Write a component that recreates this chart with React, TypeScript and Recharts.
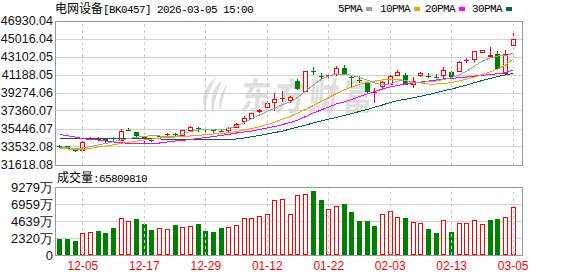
import React from 'react';
import { ComposedChart, Bar, Line, XAxis, YAxis, CartesianGrid, ReferenceLine } from 'recharts';

const dates = ['12-02','12-03','12-04','12-05','12-08','12-09','12-10','12-11','12-12','12-15','12-16','12-17','12-18','12-19','12-22','12-23','12-24','12-25','12-26','12-29','12-30','12-31','01-05','01-06','01-07','01-08','01-09','01-12','01-13','01-14','01-15','01-16','01-19','01-20','01-21','01-22','01-23','01-26','01-27','01-28','01-29','01-30','02-02','02-03','02-04','02-05','02-06','02-09','02-10','02-11','02-12','02-13','02-24','02-25','02-26','02-27','03-02','03-03','03-04','03-05'];

const opens = [33671,33607,33213,33139,34383,34370,34383,34180,34202,35290,
  35095,34383,34277,34670,34883,34880,34702,35234,35500,35393,
  35287,35266,35234,35585,36159,36541,37222,37647,38179,38647,
  38424,40550,39412,41645,41082,41156,41188,41964,40976,40689,
  40306,39274,39880,40125,41114,41188,40072,41082,41103,40976,
  41114,41539,41539,42730,42815,43496,43102,43389,41263,44304];
const highs = [33700,33639,33394,34117,34564,34543,34400,34628,35446,35585,
  35127,34628,34415,34808,35053,35000,35340,35765,35691,35552,
  35415,35308,35691,36084,36829,37180,37605,38456,39243,39519,
  38987,40763,41660,42071,41433,41433,42177,42252,41082,41082,
  40338,39827,40550,41188,41720,41433,41007,41560,41433,41263,
  42071,41614,42677,43028,43740,43860,44200,43740,43846,45728];
const lows = [33394,33320,32969,33001,34277,34277,33990,34064,34180,35230,
  34564,33851,34064,34564,34733,34680,34564,35127,35159,35159,
  35053,35095,35127,35552,35978,36478,37148,37467,37392,38349,
  38179,39594,39400,41188,40657,40731,41082,41188,39774,40306,
  39306,38179,39806,40019,41082,40093,39806,40976,40837,40837,
  40657,40944,41507,42496,42602,43496,43100,41773,41241,44272];
const closes = [33639,33352,33181,34064,34436,34420,34139,34130,35234,35250,
  34670,34596,34245,34733,34947,34840,35308,35659,35446,35340,
  35234,35100,35585,35978,36648,37116,37499,38243,38636,38753,
  38817,39668,41645,41592,41029,41210,41901,41295,40869,40625,
  39412,39381,40476,41082,41475,40125,40550,41369,41050,40923,
  41720,40976,42539,42836,43740,43846,43315,41826,43389,45016];
// volume in 万
const volumes = [2172,2180,1901,2942,3078,3259,2987,3711,5114,4707,
  4888,4209,3395,3621,3530,4073,3802,3892,4209,3259,
  3123,3666,3802,4073,5024,5000,5386,5567,7468,7694,
  5658,8237,8373,8690,7468,6246,6744,6925,5839,4617,
  4600,3938,5658,6065,5250,5024,4435,4420,3530,2987,
  4843,3123,4300,4310,4843,4164,4752,4888,5250,6581];

const ma5 = [33532,33458,33394,33426,33586,33745,33905,34117,34277,34436,
  34564,34649,34755,34702,34596,34649,34915,35180,35340,35393,
  35340,35372,35499,35765,36138,36563,36935,37307,37679,38052,
  38317,38849,39487,40125,40710,41082,41295,41280,41135,40922,
  40657,40338,40125,40231,40550,40603,40338,40391,40497,40550,
  40710,40922,41188,41614,42145,42677,42996,43209,43220,43528];
const ma10 = [33426,33320,33267,33267,33373,33532,33639,33777,33905,34032,
  34170,34277,34383,34489,34564,34596,34649,34702,34755,34861,
  34915,34968,35053,35180,35340,35499,35712,35925,36191,36510,
  36776,37148,37520,37945,38371,38796,39221,39593,39912,40178,
  40391,40550,40657,40731,40710,40603,40444,40338,40231,40231,
  40284,40391,40550,40763,40976,41241,41507,41826,42252,42890];
const ma20 = [34861,34733,34596,34415,34330,34277,34170,34064,33990,33926,
  33905,33900,33905,33958,34064,34170,34245,34330,34436,34543,
  34649,34755,34883,35021,35127,35234,35393,35553,35712,35925,
  36138,36403,36776,37148,37467,37786,38105,38317,38583,38902,
  39168,39434,39700,39912,40072,40231,40338,40444,40550,40657,
  40763,40816,40901,40976,41082,41135,41241,41327,41433,41720];
const ma30 = [34470,34465,34462,34458,34455,34452,34448,34445,34440,34430,
  34420,34410,34400,34385,34360,34330,34300,34290,34285,34280,
  34278,34276,34280,34383,34489,34627,34755,34915,35074,35234,
  35446,35659,35872,36084,36297,36510,36669,36882,37094,37307,
  37520,37786,37998,38264,38477,38604,38764,38923,39115,39296,
  39508,39700,39912,40125,40391,40603,40816,41029,41188,41369];

const priceTicks = [31618.08, 33532.08, 35446.07, 37360.07, 39274.06, 41188.05, 43102.05, 45016.04, 46930.04];
const volTicks = [0, 2319.75, 4639.5, 6959.25, 9279];
const volTickLabels = ['0', '2320万', '4639万', '6959万', '9279万'];
const xTickDates = ['12-05', '12-17', '12-29', '01-12', '01-22', '02-03', '02-13', '03-05'];

const data = dates.map((d, i) => ({
  date: d,
  open: opens[i],
  high: highs[i],
  low: lows[i],
  close: closes[i],
  range: [lows[i], highs[i]],
  vol: volumes[i],
  volUp: i === 0 ? closes[i] >= opens[i] : closes[i] >= closes[i - 1],
  ma5: ma5[i],
  ma10: ma10[i],
  ma20: ma20[i],
  ma30: ma30[i],
}));

const RED = '#ff0000';
const GREEN = '#008000';
const FONT_NUM = "'Liberation Sans', Arial, sans-serif";
const FONT_MONO = "'Liberation Mono', 'Noto Sans CJK SC', monospace";
const FONT_CJK = "'Noto Sans CJK SC', sans-serif";

function Candle(props: any) {
  const { x, y, width, height, payload } = props;
  if (x == null || payload == null) return null;
  const top = Math.min(y, y + height);
  const h = Math.abs(height);
  const { open, close, high, low } = payload;
  const py = (v: number) => top + ((high - v) / (high - low)) * h;
  const cx = Math.floor(x + width / 2) + 0.5;
  const up = close > open;
  const color = up ? RED : GREEN;
  const bTop = Math.round(py(Math.max(open, close)));
  const bBot = Math.round(py(Math.min(open, close)));
  const hY = Math.round(py(high));
  const lY = Math.round(py(low));
  if (bBot - bTop <= 1) {
    return (
      <g shapeRendering="crispEdges">
        <line x1={cx} x2={cx} y1={hY} y2={lY} stroke={color} />
        <rect x={cx - 2.5} y={bTop} width={5} height={1} fill={color} />
      </g>
    );
  }
  if (up) {
    return (
      <g shapeRendering="crispEdges">
        <line x1={cx} x2={cx} y1={hY} y2={bTop} stroke={color} />
        <line x1={cx} x2={cx} y1={bBot} y2={lY} stroke={color} />
        <rect x={cx - 2} y={bTop + 0.5} width={4} height={bBot - bTop - 1} fill="#fff" stroke={color} strokeWidth={1.2} />
      </g>
    );
  }
  return (
    <g shapeRendering="crispEdges">
      <line x1={cx} x2={cx} y1={hY} y2={lY} stroke={color} />
      <rect x={cx - 2.5} y={bTop} width={5} height={bBot - bTop} fill={color} />
    </g>
  );
}

function VolBar(props: any) {
  const { x, y, width, height, payload } = props;
  if (x == null || payload == null) return null;
  const top = Math.round(Math.min(y, y + height));
  const bot = Math.round(Math.max(y, y + height));
  const cx = Math.floor(x + width / 2) + 0.5;
  if (payload.volUp) {
    return (
      <rect x={cx - 2} y={top + 0.5} width={4} height={bot - top - 1} fill="#fff" stroke={RED} shapeRendering="crispEdges" />
    );
  }
  return <rect x={cx - 2.5} y={top} width={5} height={bot - top} fill={GREEN} shapeRendering="crispEdges" />;
}

const legendItems = [
  { label: '5PMA', color: '#a0a0a0', left: 338, sq: 366 },
  { label: '10PMA', color: '#f5a300', left: 380, sq: 414 },
  { label: '20PMA', color: '#ff00ff', left: 425, sq: 459 },
  { label: '30PMA', color: '#006b35', left: 472, sq: 506 },
];

const axisTick = { fill: '#111', fontSize: 12.5, fontFamily: FONT_NUM };
const WM = '#dedede';

export default function App() {
  return (
    <div style={{ position: 'fixed', left: 0, top: 0, width: 578, height: 276, background: '#fff', overflow: 'hidden' }}>
      <svg style={{ position: 'absolute', left: 0, top: 0 }} width={578} height={276}>
        <path d="M216 78 C204 86 200 100 206 114 C205 102 209 90 216 78 Z" fill={WM} />
        <path d="M222 80 C212 88 209 100 213 114 C214 102 217 92 222 80 Z" fill={WM} />
        <path d="M228 84 C220 92 218 102 220 112 C222 102 224 94 228 84 Z" fill={WM} />
        <text x={0} y={0} transform="translate(240 110) scale(1 1.25) skewX(-6)" fontFamily={FONT_CJK} fontSize={30} fontWeight={700}
          fill={WM} textLength={132} lengthAdjust="spacing">东方财富</text>
      </svg>

      <div style={{ position: 'absolute', left: 55, top: 0, height: 16, lineHeight: '16px', whiteSpace: 'nowrap', color: '#000' }}>
        <span style={{ fontFamily: FONT_CJK, fontSize: 12 }}>电网设备</span>
        <span style={{ fontFamily: FONT_MONO, fontSize: 11, letterSpacing: -0.6 }}>[BK0457] 2026-03-05 15:00</span>
      </div>

      {legendItems.map((it) => (
        <React.Fragment key={it.label}>
          <div style={{ position: 'absolute', left: it.left, top: 1, lineHeight: '16px', fontFamily: FONT_MONO, fontSize: 11, letterSpacing: -0.6, color: '#000', whiteSpace: 'nowrap' }}>{it.label}</div>
          <div style={{ position: 'absolute', left: it.sq, top: 7, width: 6, height: 4, background: it.color }} />
        </React.Fragment>
      ))}

      <div style={{ position: 'absolute', left: 0, top: 0 }}>
        <ComposedChart width={578} height={176} data={data} margin={{ top: 21, right: 56, bottom: 11, left: 0 }} style={{ shapeRendering: 'crispEdges' }}>
          <CartesianGrid vertical={false} stroke="#d0d0d0" />
          <XAxis dataKey="date" hide padding={{ left: 0, right: 5 }} />
          <YAxis type="number" domain={[31618.08, 46930.04]} ticks={priceTicks} interval={0} allowDataOverflow width={56}
            tickLine={false} axisLine={false} tickSize={0} tickMargin={3} tick={axisTick}
            tickFormatter={(v: number) => v.toFixed(2)} />
          {xTickDates.map((d) => (
            <ReferenceLine key={d} x={d} stroke="#cccccc" strokeDasharray="3 3" />
          ))}
          <Line type="linear" dataKey="ma30" stroke="#006b35" strokeWidth={1} dot={false} isAnimationActive={false} />
          <Line type="linear" dataKey="ma20" stroke="#ff00ff" strokeWidth={1} dot={false} isAnimationActive={false} />
          <Line type="linear" dataKey="ma10" stroke="#f5a300" strokeWidth={1} dot={false} isAnimationActive={false} />
          <Line type="linear" dataKey="ma5" stroke="#a0a0a0" strokeWidth={1} dot={false} isAnimationActive={false} />
          <Bar dataKey="range" shape={<Candle />} isAnimationActive={false} />
        </ComposedChart>
      </div>

      <div style={{ position: 'absolute', left: 55, top: 21, width: 468, height: 145, boxSizing: 'border-box', border: '1px solid #999', pointerEvents: 'none' }} />

      <div style={{ position: 'absolute', left: 57, top: 169, height: 16, lineHeight: '16px', whiteSpace: 'nowrap', color: '#000' }}>
        <span style={{ fontFamily: FONT_CJK, fontSize: 12 }}>成交量</span>
        <span style={{ fontFamily: FONT_MONO, fontSize: 11, letterSpacing: -0.6 }}>:65809810</span>
      </div>

      <div style={{ position: 'absolute', left: 0, top: 176 }}>
        <ComposedChart width={578} height={100} data={data} margin={{ top: 11, right: 56, bottom: 0, left: 0 }} style={{ shapeRendering: 'crispEdges' }}>
          <CartesianGrid vertical={false} stroke="#d0d0d0" />
          <XAxis dataKey="date" padding={{ left: 0, right: 5 }} height={21} interval={0} tickLine={false} axisLine={false}
            tickSize={0} tickMargin={6} tick={{ fill: RED, fontSize: 12, fontFamily: FONT_NUM }}
            tickFormatter={(d: string) => (xTickDates.includes(d) ? d : '')} />
          <YAxis type="number" domain={[0, 9279]} ticks={volTicks} interval={0} allowDataOverflow width={56}
            tickLine={false} axisLine={false} tickSize={0} tickMargin={3} tick={{ ...axisTick, fontSize: 13 }}
            tickFormatter={(v: number) => volTickLabels[volTicks.indexOf(v)] ?? ''} />
          {xTickDates.map((d) => (
            <ReferenceLine key={d} x={d} stroke="#cccccc" strokeDasharray="3 3" />
          ))}
          <Bar dataKey="vol" shape={<VolBar />} isAnimationActive={false} />
        </ComposedChart>
      </div>

      <div style={{ position: 'absolute', left: 55, top: 187, width: 468, height: 69, boxSizing: 'border-box', border: '1px solid #999', pointerEvents: 'none' }} />
    </div>
  );
}
